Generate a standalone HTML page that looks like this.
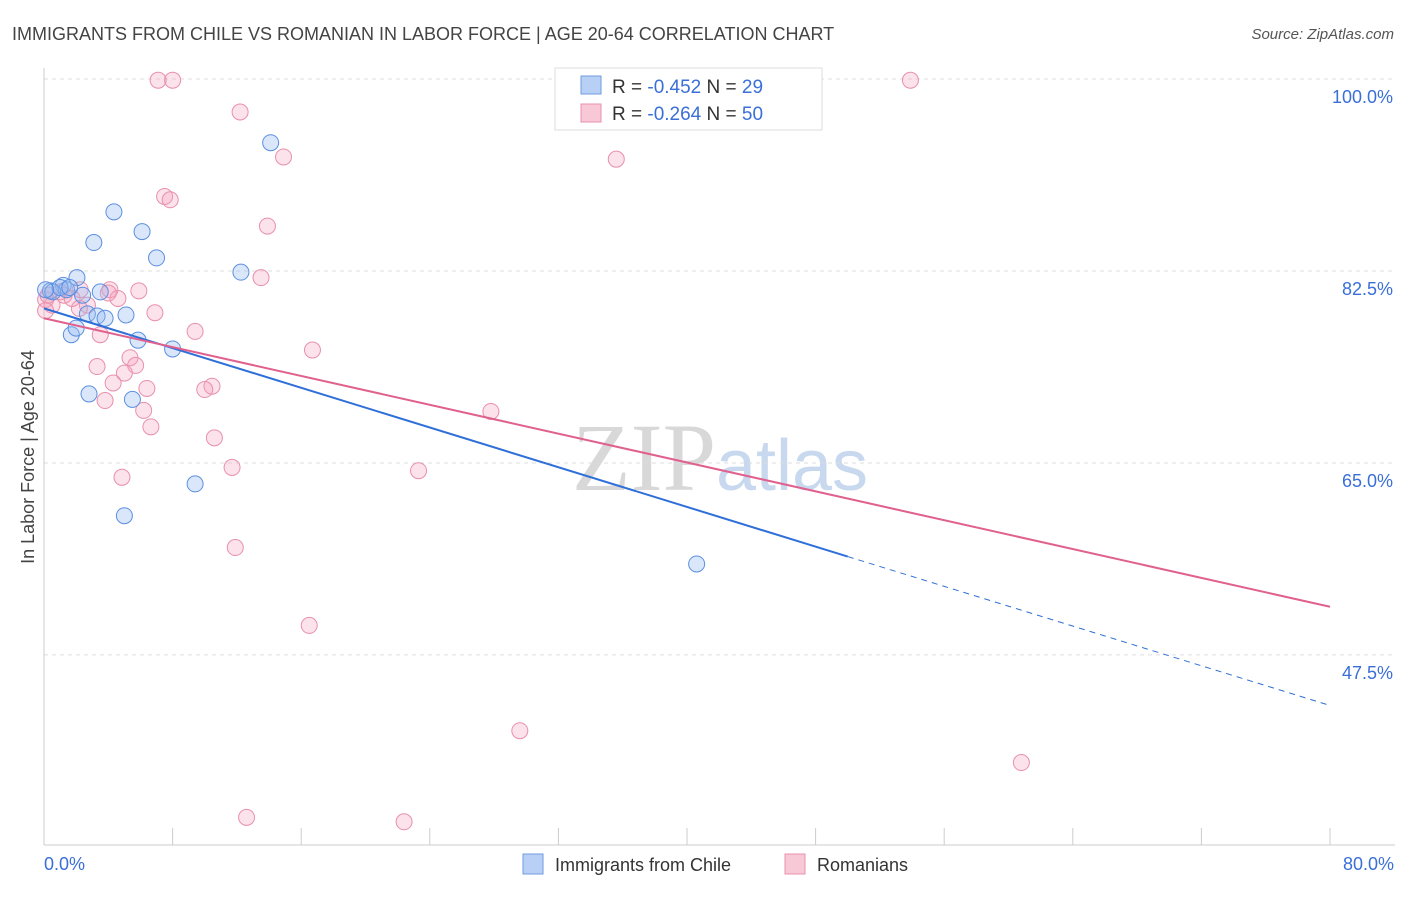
<!DOCTYPE html>
<html><head><meta charset="utf-8"><style>
body{margin:0;background:#fff;font-family:"Liberation Sans",sans-serif;}
</style></head><body>
<svg id="c" width="1406" height="892" xmlns="http://www.w3.org/2000/svg">
<text x="12" y="40" font-size="18" fill="#444">IMMIGRANTS FROM CHILE VS ROMANIAN IN LABOR FORCE | AGE 20-64 CORRELATION CHART</text>
<text x="1394" y="39" font-size="15" fill="#555" font-style="italic" text-anchor="end">Source: ZipAtlas.com</text>
<text x="720" y="490" font-size="96" fill="#ddd" text-anchor="middle" font-family="Liberation Serif"><tspan fill="#d8d8d8">ZIP</tspan><tspan fill="#c8d8ee" font-family="Liberation Sans" font-size="72">atlas</tspan></text>
<g id="grid"></g><g id="axes"></g><g id="pts"></g><g id="lines"></g>
<text transform="translate(34,457) rotate(-90)" font-size="18" fill="#444" text-anchor="middle">In Labor Force | Age 20-64</text>
<text x="44" y="870" font-size="18" fill="#3a6fd8">0.0%</text>
<text x="1394" y="870" font-size="18" fill="#3a6fd8" text-anchor="end">80.0%</text>
<g>
<rect x="555" y="68" width="267" height="62" fill="#fff" stroke="#ddd"/>
<rect x="581" y="76" width="20" height="18" fill="#b8d0f5" stroke="#6f9be0"/>
<rect x="581" y="104" width="20" height="18" fill="#f8c8d6" stroke="#e890ac"/>
<text x="612" y="93" font-size="19" fill="#333">R = <tspan fill="#3a6fd8">-0.452</tspan>   N = <tspan fill="#3a6fd8">29</tspan></text>
<text x="612" y="120" font-size="19" fill="#333">R = <tspan fill="#3a6fd8">-0.264</tspan>   N = <tspan fill="#3a6fd8">50</tspan></text>
</g>
<g>
<rect x="523" y="854" width="20" height="20" fill="#b8d0f5" stroke="#6f9be0"/>
<text x="555" y="871" font-size="18" fill="#333">Immigrants from Chile</text>
<rect x="785" y="854" width="20" height="20" fill="#f8c8d6" stroke="#e890ac"/>
<text x="817" y="871" font-size="18" fill="#333">Romanians</text>
</g>
</svg>
<script>
const yTicks=[100,82.5,65,47.5];
const chileX=[14.1,4.35,3.1,6.1,7.0,12.25,2.05,1.2,0.4,1.4,2.4,2.7,3.3,3.8,5.1,1.7,2.0,5.85,8.0,2.8,5.5,9.4,5.0,40.6,0.55,1.0,1.6,0.1,3.5];
const chileY=[94.1,87.8,85.0,86.0,83.6,82.3,81.8,81.1,80.6,80.7,80.2,78.5,78.3,78.1,78.4,76.6,77.2,76.1,75.3,71.2,70.7,63.0,60.1,55.7,80.5,80.9,80.9,80.7,80.5];
const romX=[7.1,8.0,53.9,12.2,14.9,35.6,7.5,7.85,13.9,13.5,4.1,5.9,4.6,2.25,1.25,0.1,0.5,2.7,2.2,6.9,9.4,3.5,16.7,5.35,3.3,5.7,5.0,4.3,6.4,10.45,10.0,3.8,6.2,27.8,6.65,10.6,11.7,23.3,4.85,11.9,16.5,29.6,60.8,12.6,22.4,0.25,1.0,1.75,0.1,4.0];
const romY=[99.8,99.8,99.8,96.9,92.8,92.6,89.2,88.9,86.5,81.8,80.7,80.6,79.9,80.7,80.2,79.8,79.3,79.3,79.0,78.6,76.9,76.6,75.2,74.5,73.7,73.8,73.1,72.2,71.7,71.9,71.6,70.6,69.7,69.6,68.2,67.2,64.5,64.2,63.6,57.2,50.1,40.5,37.6,32.6,32.2,80.2,80.5,79.9,78.8,80.4];
const chileTrend=[79.0,42.8];
const romTrend=[78.1,51.8];
const NS="http://www.w3.org/2000/svg";
const X=v=>44+v/80*1286, Y=v=>78+(100-v)*10.97;
function mk(t,a,p){const e=document.createElementNS(NS,t);for(const k in a)e.setAttribute(k,a[k]);document.getElementById(p).appendChild(e);return e;}
yTicks.forEach(t=>{
 const l=mk('line',{x1:44,x2:1395,y1:Y(t)+1,y2:Y(t)+1,stroke:'#ddd','stroke-dasharray':'4,4'},'grid');
 
 
 const tx=mk('text',{x:1393,y:Y(t)+25,'font-size':18,fill:'#3a6fd8','text-anchor':'end'},'grid');
 tx.textContent=t.toFixed(1)+'%';
 
 
});
const ax=mk('line',{x1:44,x2:44,y1:68,y2:845,stroke:'#ccc'},'axes');


const bx=mk('line',{x1:44,x2:1395,y1:845,y2:845,stroke:'#ccc'},'axes');


for(let i=0;i<=10;i++){const t=mk('line',{x1:X(i*8),x2:X(i*8),y1:828,y2:845,stroke:'#ccc'},'axes');
 
 }
romX.forEach((v,i)=>{const c=mk('circle',{cx:X(v),cy:Y(romY[i]),r:8,fill:'rgba(244,160,188,0.3)',stroke:'#e890ac','stroke-width':1},'pts');
 
 });
chileX.forEach((v,i)=>{const c=mk('circle',{cx:X(v),cy:Y(chileY[i]),r:8,fill:'rgba(150,185,240,0.35)',stroke:'#5b8fe0','stroke-width':1},'pts');
 
 });
const cy=x=>chileTrend[0]+(chileTrend[1]-chileTrend[0])*x/80;
const ry=x=>romTrend[0]+(romTrend[1]-romTrend[0])*x/80;
const xs=50;
const l1=mk('line',{x1:X(0),y1:Y(cy(0)),x2:X(xs),y2:Y(cy(xs)),stroke:'#2f6fd8','stroke-width':2},'lines');


const l2=mk('line',{x1:X(xs),y1:Y(cy(xs)),x2:X(80),y2:Y(cy(80)),stroke:'#2f6fd8','stroke-width':1,'stroke-dasharray':'6,5'},'lines');


const l3=mk('line',{x1:X(0),y1:Y(ry(0)),x2:X(80),y2:Y(ry(80)),stroke:'#e0608e','stroke-width':2},'lines');


</script>
</body></html>
